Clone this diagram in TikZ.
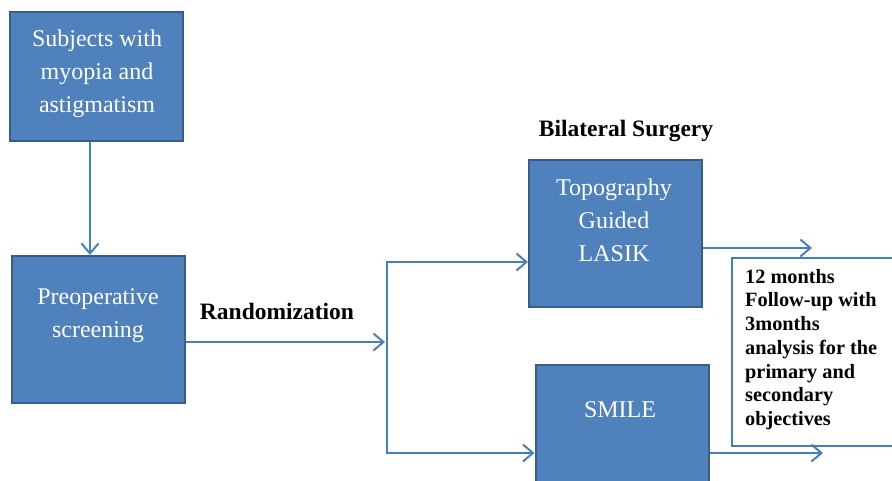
\documentclass[tikz,border=0pt]{standalone}
\usepackage{fontspec}
\setmainfont{Liberation Serif}
\usetikzlibrary{arrows.meta}
\definecolor{boxfill}{HTML}{4F81BD}
\definecolor{boxline}{HTML}{385D8A}
\definecolor{conn}{HTML}{4A7EBB}
\tikzset{
  bluebox/.style={draw=boxline, line width=2pt, fill=boxfill, inner sep=0pt, minimum width=173pt, minimum height=147pt},
  boxtext/.style={text=white, align=center, inner sep=0pt, font=\fontsize{24}{33}\selectfont},
  lbl/.style={inner sep=0pt, font=\bfseries\fontsize{23.5}{26}\selectfont},
  conline/.style={draw=conn, line width=2pt},
  arr/.style={conline, -{Straight Barb[length=10pt,width=17pt,line width=2pt]}},
  notebox/.style={draw=conn, line width=1.5pt, fill=white, inner sep=0pt, minimum width=170pt, minimum height=188pt},
  notetext/.style={align=left, inner sep=0pt, font=\bfseries\fontsize{20.3}{23.7}\selectfont}
}
\begin{document}
\begin{tikzpicture}[x=1pt,y=-1pt]
\useasboundingbox (0,0) rectangle (892,480);
\clip (0,0) rectangle (892,480);
% boxes
\node[bluebox, minimum height=129pt] (subj) at (96.5,76.5) {};
\node[boxtext] (subjt) at (97,74) {Subjects with\\myopia and\\astigmatism};
\node[bluebox] (pre) at (98.5,329.5) {};
\node[boxtext] (pret) at (98,316) {Preoperative\\screening};
\node[bluebox] (lasik) at (615.5,233.5) {};
\node[boxtext] (lasikt) at (614,220) {Topography\\Guided\\LASIK};
\node[bluebox] (smile) at (622,438.5) {};
\node[boxtext] (smilet) at (620,410) {SMILE};
\node[notebox, anchor=north west] (note) at (731,257) {};
\node[notetext, anchor=north west] (notet) at (745,269) {12 months\\Follow-up with\\3months\\analysis for the\\primary and\\secondary\\objectives};
% labels
\node[lbl] (rand) at (277,311) {Randomization};
\node[lbl] (bil) at (626,131) {Bilateral Surgery};
% connectors
\coordinate (top) at (387,262);
\coordinate (bot) at (387,453);
\coordinate (lend) at (812,248);
\coordinate (send) at (823,453);
\draw[arr] ([xshift=-6.5pt]subj.south) -- ([xshift=-8.5pt]pre.north);
\draw[arr] ([yshift=-12.5pt]pre.east) -- ([xshift=-2pt]top |- 0,342);
\draw[conline] (top) -- (bot);
\draw[arr] ([xshift=-1pt]top) -- (top -| lasik.west);
\draw[arr] ([xshift=-1pt]bot) -- (bot -| smile.west);
\draw[arr] (lasik.east |- lend) -- (lend);
\draw[arr] (smile.east |- send) -- (send);
\end{tikzpicture}
\end{document}
